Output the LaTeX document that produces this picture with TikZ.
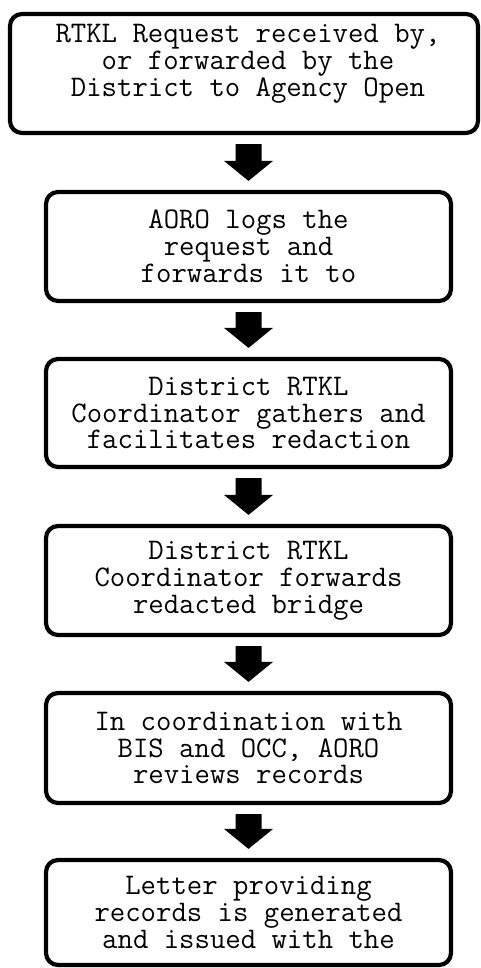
\documentclass[tikz,border=0pt]{standalone}
\usepackage{fontspec}
\usetikzlibrary{calc}
\tikzset{
  stepbox/.style={draw=black, line width=4.2pt, rounded corners=12pt, fill=white,
    inner sep=0pt, align=center, font=\ttfamily\fontsize{29.9}{26.8}\selectfont},
  txt/.style={inner sep=0pt, align=center, font=\ttfamily\fontsize{29.9}{26.8}\selectfont},
  bigarrowfill/.style={fill=black}
}
\newcommand{\flowarrow}[2]{%
  \coordinate (tip-#1) at ($(#2.north)+(0,-9)$);
  \coordinate (top-#1) at (tip-#1 |- #1.south);
  \fill[bigarrowfill] ($(top-#1)+(-13,9)$) -- ($(tip-#1)+(-13,-20)$) -- ($(tip-#1)+(-24.5,-20)$)
    -- (tip-#1) -- ($(tip-#1)+(24.5,-20)$) -- ($(tip-#1)+(13,-20)$) -- ($(top-#1)+(13,9)$) -- cycle;
}
\begin{document}
\begin{tikzpicture}[x=1pt,y=-1pt]
\fill[white] (0,0) rectangle (481,968);
\useasboundingbox (0,0) rectangle (481,968);
\node[stepbox, minimum width=468pt, minimum height=119pt] (b1) at (244,73.5) {};
\node[txt] (t1) at (248,64) {RTKL Request received by,\\or forwarded by the\\District to Agency Open};
\node[stepbox, minimum width=405pt, minimum height=109pt] (b2) at (248.5,246.5) {AORO logs the\\request and\\forwards it to};
\node[stepbox, minimum width=405pt, minimum height=108pt] (b3) at (248.5,413) {District RTKL\\Coordinator gathers and\\facilitates redaction};
\node[stepbox, minimum width=405pt, minimum height=109pt] (b4) at (248.5,580.5) {District RTKL\\Coordinator forwards\\redacted bridge};
\node[stepbox, minimum width=405pt, minimum height=110pt] (b5) at (248.5,748) {In coordination with\\BIS and OCC, AORO\\reviews records};
\node[stepbox, minimum width=405pt, minimum height=105pt] (b6) at (248.5,912.5) {Letter providing\\records is generated\\and issued with the};
\flowarrow{b1}{b2}
\flowarrow{b2}{b3}
\flowarrow{b3}{b4}
\flowarrow{b4}{b5}
\flowarrow{b5}{b6}
\end{tikzpicture}
\end{document}
